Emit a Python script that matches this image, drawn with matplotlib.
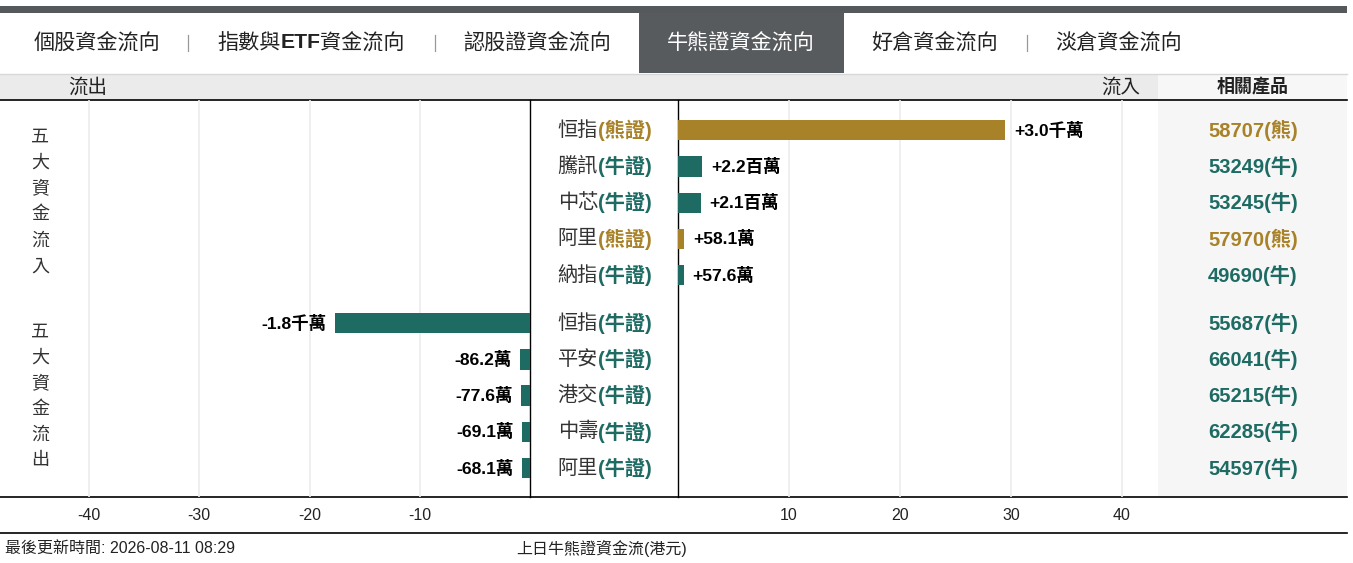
import matplotlib
matplotlib.use("Agg")
import matplotlib.pyplot as plt
import matplotlib.transforms as mtransforms
from matplotlib.patches import Rectangle

plt.rcParams["font.family"] = ["Liberation Sans", "Noto Sans CJK TC", "DejaVu Sans"]
plt.rcParams["axes.unicode_minus"] = False

# data (values in millions HKD)
tabs = ["個股資金流向", "指數與ETF資金流向", "認股證資金流向", "牛熊證資金流向", "好倉資金流向", "淡倉資金流向"]
active_tab = "牛熊證資金流向"

in_names = ["恒指", "騰訊", "中芯", "阿里", "納指"]
in_kinds = ["熊", "牛", "牛", "熊", "牛"]
in_values = [29.5, 2.2, 2.1, 0.581, 0.576]
in_labels = ["+3.0千萬", "+2.2百萬", "+2.1百萬", "+58.1萬", "+57.6萬"]
in_codes = ["58707", "53249", "53245", "57970", "49690"]

out_names = ["恒指", "平安", "港交", "中壽", "阿里"]
out_kinds = ["牛", "牛", "牛", "牛", "牛"]
out_values = [-17.7, -0.862, -0.776, -0.691, -0.681]
out_labels = ["-1.8千萬", "-86.2萬", "-77.6萬", "-69.1萬", "-68.1萬"]
out_codes = ["55687", "66041", "65215", "62285", "54597"]

left_ticks = [-40, -30, -20, -10]
right_ticks = [10, 20, 30, 40]
update_text = "最後更新時間: 2026-08-11 08:29"
unit_text = "上日牛熊證資金流(港元)"

GOLD = "#a88228"
TEAL = "#1d6b63"
kind_color = {"熊": GOLD, "牛": TEAL}

W, H = 1353, 563
fig = plt.figure(figsize=(W / 100, H / 100), dpi=100)


def px_axes(x0, y0, x1, y1):
    return fig.add_axes([x0 / W, 1 - y1 / H, (x1 - x0) / W, (y1 - y0) / H])


# background layer in pixel coordinates
bg = fig.add_axes([0, 0, 1, 1])
bg.set_xlim(0, W)
bg.set_ylim(H, 0)
bg.axis("off")
bg.set_zorder(0)

bg.add_patch(Rectangle((0, 6), 1347, 7, color="#55595c", lw=0))
bg.add_patch(Rectangle((639, 13), 205, 60, color="#575b5e", lw=0))
bg.add_patch(Rectangle((0, 74), 1158, 26, color="#ebebeb", lw=0))
bg.add_patch(Rectangle((1158, 74), 189, 26, color="#f7f7f7", lw=0))
bg.add_patch(Rectangle((1158, 100), 189, 397, color="#f6f6f6", lw=0))
bg.plot([0, 1347], [73.5, 73.5], color="#d8d8d8", lw=1)
for yy in (100, 497, 533):
    bg.plot([0, 1347], [yy, yy], color="black", lw=1.2)
for xx in (530, 678):
    bg.plot([xx, xx], [100, 497], color="black", lw=1)

# tabs
tab_x = [97, 311, 537, 741, 935, 1119]
renderer = fig.canvas.get_renderer()
for name, x in zip(tabs, tab_x):
    color = "white" if name == active_tab else "#222222"
    if "ETF" in name:
        # ETF is drawn bold, the rest regular
        head, tail = name.split("ETF")
        parts = [(head, "medium"), ("ETF", "bold"), (tail, "medium")]
        widths = []
        for txt, wt in parts:
            t = bg.text(0, 43, txt, fontsize=15.2, fontweight=wt)
            widths.append(t.get_window_extent(renderer).width)
            t.remove()
        cur = x - sum(widths) / 2
        for (txt, wt), w in zip(parts, widths):
            bg.text(cur, 43, txt, ha="left", va="center", fontsize=15.2, fontweight=wt, color=color)
            cur += w
    else:
        bg.text(x, 43, name, ha="center", va="center", fontsize=15.2, fontweight="medium",
                color=color)
for x in (188, 435, 1027):
    bg.plot([x, x], [35, 51], color="#999999", lw=0.9)

bg.text(88, 87, "流出", ha="center", va="center", fontsize=14, color="#222222")
bg.text(1121, 87, "流入", ha="center", va="center", fontsize=14, color="#222222")
bg.text(1253, 87, "相關產品", ha="center", va="center", fontsize=13,
        fontweight="bold", color="#222222")

for i, ch in enumerate("五大資金流入"):
    bg.text(40, 137 + i * 26, ch, ha="center", va="center", fontsize=13, color="#333333")
for i, ch in enumerate("五大資金流出"):
    bg.text(40, 332 + i * 25.7, ch, ha="center", va="center", fontsize=13, color="#333333")

bg.text(5, 548, update_text, ha="left", va="center", fontsize=11.5, color="#222222")
bg.text(602, 548, unit_text, ha="center", va="center", fontsize=11.5, color="#222222")

# row positions
in_pos = [0, 1, 2, 3, 4]
out_pos = [5.32 + i * 0.998 for i in range(5)]
ylim = (10.11, -0.83)
bar_h = 0.56

ax_l = px_axes(53, 100, 530, 497)
ax_r = px_axes(678, 100, 1158, 497)
for ax in (ax_l, ax_r):
    ax.set_zorder(1)
    ax.patch.set_alpha(0)
    ax.set_ylim(*ylim)
    ax.set_yticks([])
    for s in ax.spines.values():
        s.set_visible(False)
    ax.grid(axis="x", color="#ececec", lw=1.2)
    ax.set_axisbelow(True)
    ax.tick_params(axis="x", length=0, pad=8, labelsize=11.5, labelcolor="#222222")

ax_l.set_xlim(-43.27, 0)
ax_r.set_xlim(0, 43.24)
ax_l.set_xticks(left_ticks)
ax_r.set_xticks(right_ticks)

ax_r.barh(in_pos, in_values, height=bar_h, color=[kind_color[k] for k in in_kinds])
ax_l.barh(out_pos, out_values, height=bar_h, color=[kind_color[k] for k in out_kinds])

for y, v, lab in zip(in_pos, in_values, in_labels):
    ax_r.annotate(lab, (v, y), xytext=(6, 0), textcoords="offset points",
                  ha="left", va="center", fontsize=12.6, fontweight="bold", color="black")
for y, v, lab in zip(out_pos, out_values, out_labels):
    ax_l.annotate(lab, (v, y), xytext=(-6, 0), textcoords="offset points",
                  ha="right", va="center", fontsize=12.6, fontweight="bold", color="black")

# middle names and product codes (x in pixels, y in rows)
tr = mtransforms.blended_transform_factory(bg.transData, ax_r.transData)
rows = list(zip(in_pos, in_names, in_kinds, in_codes)) + list(zip(out_pos, out_names, out_kinds, out_codes))
for y, name, kind, code in rows:
    col = kind_color[kind]
    bg.text(598, y, name, transform=tr, ha="right", va="center", fontsize=14.5, color="#333333")
    bg.text(598, y, f"({kind}證)", transform=tr, ha="left", va="center", fontsize=14.5,
            fontweight="bold", color=col)
    bg.text(1253, y, f"{code}({kind})", transform=tr, ha="center", va="center", fontsize=14.5,
            fontweight="bold", color=col)

fig.savefig("out.png", dpi=100)
